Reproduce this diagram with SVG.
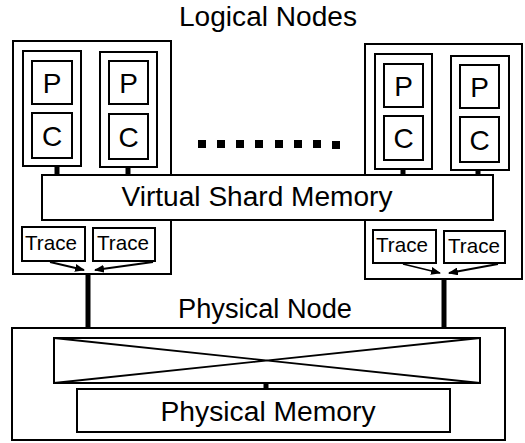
<svg xmlns="http://www.w3.org/2000/svg" width="525" height="443" viewBox="0 0 525 443">
<style>
.box{fill:#fff;stroke:#000;stroke-width:2}
.thick{stroke:#000;stroke-width:5;fill:none}
.arr{stroke:#000;stroke-width:1.8;fill:none}
text{font-family:"Liberation Sans",Arial,sans-serif;fill:#000}
.lbl{font-size:27px;text-anchor:middle}
.pc{font-size:28px;text-anchor:middle}
.tr{font-size:21px;text-anchor:middle}
</style>
<defs>
<marker id="ah" markerWidth="10" markerHeight="8" refX="9" refY="4" orient="auto" markerUnits="userSpaceOnUse">
<path d="M0,0 L10,4 L0,8 z" fill="#000"/>
</marker>
</defs>
<rect width="525" height="443" fill="#fff"/>
<text class="lbl" x="268" y="26" textLength="178" lengthAdjust="spacingAndGlyphs">Logical Nodes</text>

<g id="logical-left">
<rect class="box" x="13" y="41" width="158" height="233"/>
<rect class="box" x="23" y="51" width="58" height="115"/>
<rect class="box" x="32" y="61" width="40" height="43"/>
<text class="pc" x="52" y="93">P</text>
<rect class="box" x="32" y="113" width="40" height="45"/>
<text class="pc" x="52" y="146">C</text>
<rect class="box" x="100" y="52" width="57" height="115"/>
<rect class="box" x="109" y="61" width="39" height="43"/>
<text class="pc" x="128.5" y="93">P</text>
<rect class="box" x="109" y="114" width="39" height="45"/>
<text class="pc" x="128.5" y="147">C</text>
</g>

<g id="logical-right">
<rect class="box" x="365" y="44" width="157" height="235"/>
<rect class="box" x="375" y="54" width="57" height="115"/>
<rect class="box" x="384" y="64" width="39" height="43"/>
<text class="pc" x="403.5" y="96">P</text>
<rect class="box" x="384" y="116" width="39" height="44"/>
<text class="pc" x="403.5" y="148">C</text>
<rect class="box" x="451" y="56" width="58" height="114"/>
<rect class="box" x="460" y="65" width="39" height="43"/>
<text class="pc" x="479.5" y="97">P</text>
<rect class="box" x="460" y="117" width="39" height="45"/>
<text class="pc" x="479.5" y="150">C</text>
</g>

<g id="ellipsis">
<rect x="198" y="140" width="8" height="8"/>
<rect x="217" y="140" width="8" height="8"/>
<rect x="236" y="140" width="8" height="8"/>
<rect x="255" y="140" width="8" height="8"/>
<rect x="275" y="140" width="8" height="8"/>
<rect x="294" y="140" width="8" height="8"/>
<rect x="313" y="140" width="8" height="8"/>
<rect x="332" y="141" width="8" height="8"/>
</g>

<g id="virtual-shard-memory">
<rect class="box" x="42" y="175" width="451" height="45"/>
<text class="lbl" x="257" y="206" textLength="271" lengthAdjust="spacingAndGlyphs">Virtual Shard Memory</text>
</g>

<g id="trace-left">
<rect class="box" x="22" y="227" width="63" height="34"/>
<text class="tr" x="51" y="250" textLength="52" lengthAdjust="spacingAndGlyphs">Trace</text>
<rect class="box" x="93" y="228" width="62" height="33"/>
<text class="tr" x="123" y="250" textLength="52" lengthAdjust="spacingAndGlyphs">Trace</text>
</g>

<g id="trace-right">
<rect class="box" x="373" y="230" width="63" height="33"/>
<text class="tr" x="402" y="252" textLength="52" lengthAdjust="spacingAndGlyphs">Trace</text>
<rect class="box" x="444" y="231" width="61" height="32"/>
<text class="tr" x="474" y="253" textLength="52" lengthAdjust="spacingAndGlyphs">Trace</text>
</g>

<g id="physical-node">
<text class="lbl" x="265" y="318" textLength="174" lengthAdjust="spacingAndGlyphs">Physical Node</text>
<rect class="box" x="12" y="328" width="493" height="112"/>
<rect class="box" x="54" y="338" width="426" height="45"/>
<path d="M54,338 L480,383 M54,383 L480,338" stroke="#000" stroke-width="1.8" fill="none"/>
<rect class="box" x="77" y="389" width="373" height="43"/>
<text class="lbl" x="268" y="421" textLength="215" lengthAdjust="spacingAndGlyphs">Physical Memory</text>
</g>

<g id="connectors">
<line class="thick" x1="57" y1="166" x2="57" y2="175"/>
<line class="thick" x1="128" y1="167" x2="128" y2="175"/>
<line class="thick" x1="403" y1="169" x2="403" y2="175"/>
<line class="thick" x1="478" y1="170" x2="478" y2="175"/>
<line class="arr" x1="50" y1="262" x2="84" y2="270" marker-end="url(#ah)"/>
<line class="arr" x1="153" y1="262" x2="95" y2="270" marker-end="url(#ah)"/>
<line class="arr" x1="403" y1="264" x2="440" y2="273" marker-end="url(#ah)"/>
<line class="arr" x1="498" y1="264" x2="449" y2="273" marker-end="url(#ah)"/>
<line class="thick" x1="88" y1="274" x2="88" y2="328"/>
<line class="thick" x1="444" y1="279" x2="444" y2="328"/>
<line class="thick" x1="266" y1="383" x2="266" y2="389"/>
</g>
</svg>
